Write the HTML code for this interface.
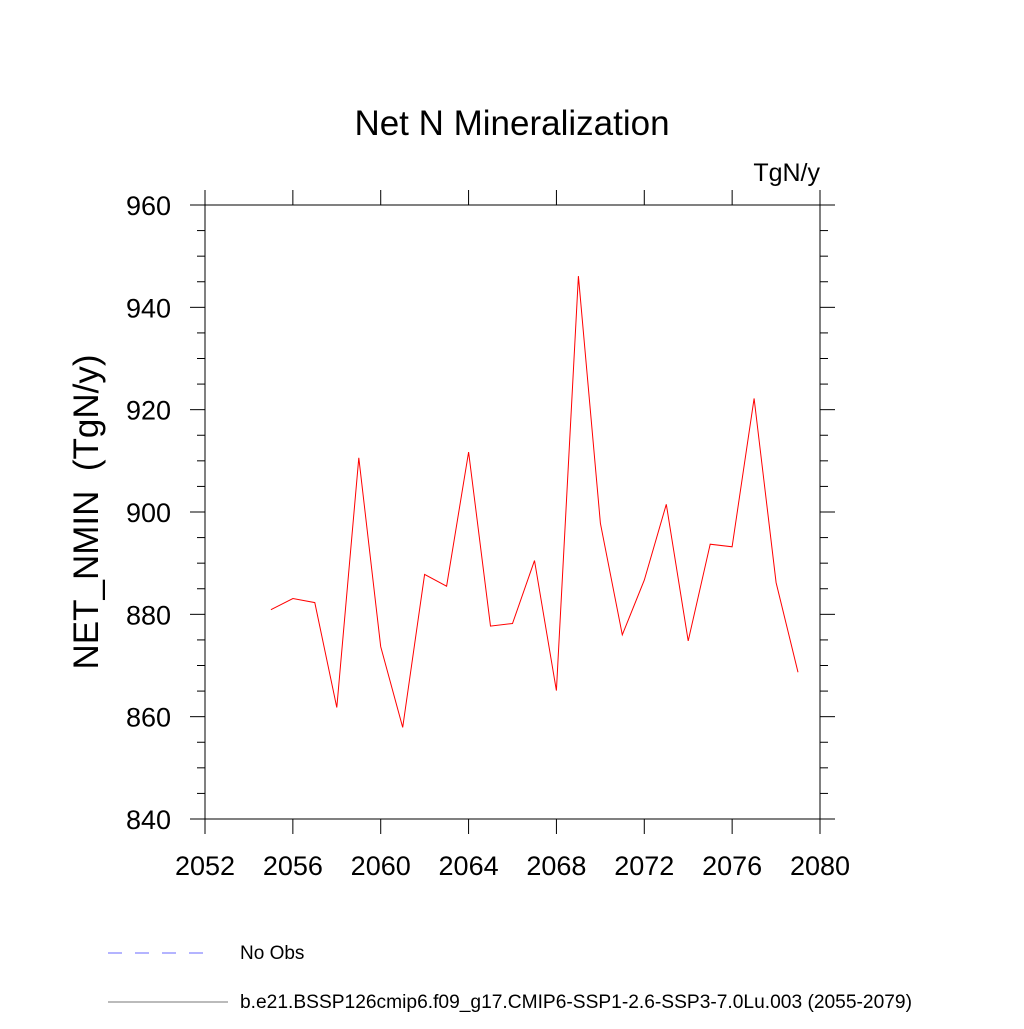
<!DOCTYPE html>
<html><head><meta charset="utf-8"><style>
html,body{margin:0;padding:0;background:#fff;}
svg text{font-family:"Liberation Sans",sans-serif;fill:#000;}
</style></head><body>
<svg id="chart" width="1024" height="1024" xmlns="http://www.w3.org/2000/svg">
<text x="512" y="135" font-size="35" text-anchor="middle">Net N Mineralization</text>
<text x="820" y="181" font-size="25" text-anchor="end">TgN/y</text>
<text transform="translate(98,512) rotate(-90)" font-size="35" text-anchor="middle" xml:space="preserve" style="white-space:pre">NET_NMIN  (TgN/y)</text>
<g id="axes"></g>
<g id="series"></g>
<line x1="108" y1="953" x2="216" y2="953" stroke="#6a6aff" stroke-width="1" stroke-dasharray="14,13"/>
<text x="240" y="959" font-size="19">No Obs</text>
<line x1="108" y1="1002" x2="228" y2="1002" stroke="#777" stroke-width="1"/>
<text x="240" y="1008" font-size="19.2">b.e21.BSSP126cmip6.f09_g17.CMIP6-SSP1-2.6-SSP3-7.0Lu.003 (2055-2079)</text>
</svg>
<script>
const years=[2055,2056,2057,2058,2059,2060,2061,2062,2063,2064,2065,2066,2067,2068,2069,2070,2071,2072,2073,2074,2075,2076,2077,2078,2079];
const netNmin=[880.9,883.1,882.3,861.8,910.6,873.7,857.9,887.8,885.5,911.7,877.7,878.2,890.5,865.1,946.1,897.8,876.0,886.7,901.5,874.8,893.7,893.2,922.2,886.2,868.7];
const xTicks=[2052,2056,2060,2064,2068,2072,2076,2080];
const yTicks=[840,860,880,900,920,940,960];
const NS='http://www.w3.org/2000/svg';
const L=205,R=820,T=205,B=819;
const X0=2052,X1=2080,Y0=840,Y1=960;
function sx(v){return L+(v-X0)/(X1-X0)*(R-L);}
function sy(v){return B-(v-Y0)/(Y1-Y0)*(B-T);}
function mk(tag,attrs,parent){const e=document.createElementNS(NS,tag);for(const k in attrs)e.setAttribute(k,attrs[k]);parent.appendChild(e);return e;}
const axes=document.getElementById('axes');
const frame=mk('rect',{x:L,y:T,width:R-L,height:B-T,fill:'none',stroke:'#000','stroke-width':1},axes);


xTicks.forEach(v=>{
  const x=sx(v);
  const t1=mk('line',{x1:x,y1:B,x2:x,y2:B+15,stroke:'#000'},axes);
  
  
  const t2=mk('line',{x1:x,y1:T,x2:x,y2:T-15,stroke:'#000'},axes);
  
  
  const t=mk('text',{x:x,y:875,'font-size':27,'text-anchor':'middle'},axes);t.textContent=v;
  
  
});
for(let v=Y0;v<=Y1;v+=5){
  const major=yTicks.includes(v);const len=major?15:8;const y=sy(v);
  const t1=mk('line',{x1:L,y1:y,x2:L-len,y2:y,stroke:'#000'},axes);
  
  
  const t2=mk('line',{x1:R,y1:y,x2:R+len,y2:y,stroke:'#000'},axes);
  
  
}
yTicks.forEach(v=>{
  const t=mk('text',{x:171,y:sy(v)+10,'font-size':27,'text-anchor':'end'},axes);t.textContent=v;
  
  
});
const series=document.getElementById('series');
const pts=years.map((y,i)=>sx(y).toFixed(1)+','+sy(netNmin[i]).toFixed(1)).join(' ');
const line=mk('polyline',{points:pts,fill:'none',stroke:'#ff0000','stroke-width':1},series);


</script>
</body></html>
